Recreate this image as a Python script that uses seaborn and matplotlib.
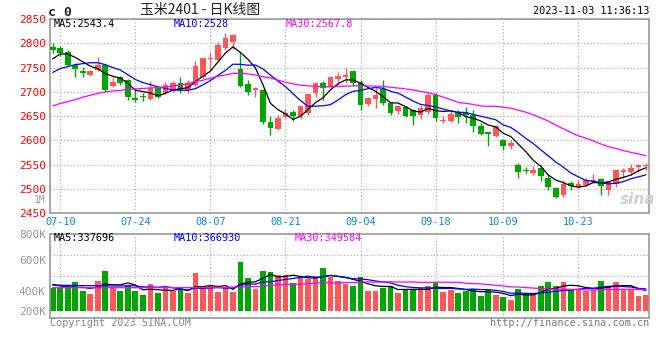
import numpy as np
import pandas as pd
import matplotlib
matplotlib.use("Agg")
import matplotlib.pyplot as plt
import seaborn as sns

# daily candles, 2023-07-07 .. 2023-11-03 (80 trading days)
open_ = [2793, 2791, 2783, 2755, 2743, 2735, 2745, 2755, 2712, 2730,
         2725, 2688, 2692, 2685, 2707, 2698, 2705, 2718, 2703, 2714,
         2730, 2768, 2766, 2790, 2803, 2748, 2716, 2703, 2703, 2637,
         2623, 2648, 2659, 2650, 2656, 2697, 2718, 2709, 2727, 2731,
         2742, 2721, 2675, 2685, 2705, 2678, 2661, 2668, 2663, 2652,
         2659, 2694, 2640, 2641, 2656, 2656, 2653, 2630, 2618, 2610,
         2600, 2588, 2550, 2539, 2532, 2544, 2522, 2502, 2488, 2512,
         2505, 2509, 2515, 2520, 2498, 2511, 2536, 2536, 2546, 2547]
high = [2801, 2795, 2787, 2760, 2752, 2746, 2771, 2757, 2731, 2733,
        2726, 2707, 2698, 2722, 2710, 2721, 2723, 2730, 2725, 2763,
        2769, 2781, 2803, 2821, 2820, 2779, 2725, 2709, 2705, 2650,
        2652, 2664, 2663, 2672, 2695, 2721, 2723, 2731, 2740, 2749,
        2742, 2725, 2690, 2707, 2725, 2680, 2673, 2670, 2665, 2673,
        2697, 2697, 2650, 2660, 2663, 2668, 2663, 2636, 2618, 2632,
        2602, 2600, 2553, 2546, 2547, 2549, 2529, 2505, 2518, 2517,
        2519, 2522, 2531, 2522, 2516, 2540, 2544, 2551, 2551, 2554]
low = [2781, 2773, 2753, 2730, 2731, 2733, 2742, 2700, 2709, 2714,
       2683, 2680, 2682, 2683, 2688, 2696, 2700, 2698, 2698, 2712,
       2728, 2745, 2762, 2786, 2788, 2709, 2694, 2689, 2634, 2611,
       2621, 2646, 2639, 2645, 2652, 2690, 2683, 2707, 2714, 2718,
       2712, 2663, 2670, 2666, 2673, 2652, 2655, 2648, 2631, 2645,
       2655, 2640, 2635, 2638, 2636, 2635, 2618, 2612, 2588, 2608,
       2580, 2583, 2522, 2532, 2528, 2517, 2498, 2481, 2484, 2498,
       2502, 2507, 2512, 2488, 2488, 2505, 2522, 2529, 2535, 2539]
close = [2787, 2781, 2755, 2748, 2738, 2743, 2755, 2704, 2721, 2719,
         2690, 2683, 2690, 2707, 2690, 2714, 2718, 2703, 2718, 2753,
         2769, 2770, 2797, 2810, 2817, 2712, 2700, 2707, 2637, 2626,
         2647, 2656, 2650, 2670, 2695, 2718, 2707, 2731, 2733, 2734,
         2718, 2673, 2687, 2694, 2678, 2656, 2670, 2650, 2650, 2666,
         2694, 2646, 2643, 2655, 2649, 2653, 2629, 2614, 2614, 2629,
         2588, 2595, 2536, 2537, 2540, 2526, 2505, 2484, 2511, 2507,
         2511, 2519, 2519, 2507, 2516, 2539, 2539, 2543, 2550, 2548]
volume = [372, 372, 400, 477, 327, 278, 494, 660, 400, 327,
          427, 327, 261, 444, 289, 372, 327, 389, 294, 627,
          372, 411, 311, 372, 316, 816, 544, 361, 660, 644,
          594, 594, 461, 561, 527, 577, 710, 555, 494, 438,
          411, 561, 333, 333, 383, 411, 300, 344, 344, 383,
          411, 477, 316, 344, 300, 327, 361, 250, 344, 261,
          228, 178, 361, 278, 278, 411, 477, 411, 477, 344,
          361, 333, 344, 494, 411, 477, 361, 344, 244, 261]  # thousand lots

# moving-average values before a full window exists
ma5_head = [2768, 2778, 2778, 2771]
ma10_head = [2740, 2748, 2752, 2756, 2758, 2760, 2760, 2756, 2750]
ma30_head = [2671, 2676, 2680, 2684, 2689, 2693, 2697, 2700, 2702, 2703,
             2705, 2706, 2707, 2708, 2709, 2710, 2712, 2714, 2717, 2721,
             2724, 2728, 2732, 2735, 2738, 2738, 2737, 2735, 2731]
vma5_head = [438, 411, 400, 389]
vma10_head = [427, 425, 422, 420, 418, 416, 416, 414, 412]
vma30_head = [383, 383, 383, 383, 383, 383, 383, 383, 383, 383,
              383, 383, 383, 383, 383, 383, 383, 383, 384, 384,
              385, 386, 388, 390, 393, 396, 399, 402, 405]

# values printed in the legends
price_ma_text = ["MA5:2543.4", "MA10:2528", "MA30:2567.8"]
vol_ma_text = ["MA5:337696", "MA10:366930", "MA30:349584"]

tick_idx = [1, 11, 21, 31, 41, 51, 60, 70]
tick_labels = ["07-10", "07-24", "08-07", "08-21", "09-04", "09-18", "10-09", "10-23"]
price_ticks = [2450, 2500, 2550, 2600, 2650, 2700, 2750, 2800, 2850]

RED = "#ff5757"
GREEN = "#00a600"
GRID = "#a8a8a8"
BORDER = "#9a9a9a"
MA_COLORS = ["black", "#0000ff", "#ff00ff"]
MONO = "DejaVu Sans Mono"
CJK = ["Noto Sans CJK SC", "DejaVu Sans"]

sns.set_theme(style="white")
plt.rcParams["font.family"] = ["DejaVu Sans Mono", "Noto Sans CJK SC"]

df = pd.DataFrame({"open": open_, "high": high, "low": low, "close": close,
                   "vol": np.array(volume) * 1000.0})
df["idx"] = np.arange(len(df))
df["color"] = np.where(df["close"] >= df["open"], RED, GREEN)

def moving_avg(s, n, head):
    m = s.rolling(n).mean().to_numpy()
    m[:n - 1] = head
    return m

df["ma5"] = moving_avg(df["close"], 5, ma5_head)
df["ma10"] = moving_avg(df["close"], 10, ma10_head)
df["ma30"] = moving_avg(df["close"], 30, ma30_head)
df["vma5"] = moving_avg(df["vol"], 5, np.array(vma5_head) * 1000.0)
df["vma10"] = moving_avg(df["vol"], 10, np.array(vma10_head) * 1000.0)
df["vma30"] = moving_avg(df["vol"], 30, np.array(vma30_head) * 1000.0)

W, H = 660, 360
fig = plt.figure(figsize=(6.6, 3.6), dpi=100)
fig.patch.set_facecolor("white")

def fx(x):
    return x / W

def fy(y):
    return 1 - y / H

ax = fig.add_axes([fx(50), fy(213.3), fx(599.3), 194.3 / H])
axv = fig.add_axes([fx(50), fy(317.7), fx(599.3), 83.4 / H])

# candles
ax.vlines(df["idx"], df["low"], df["high"], colors=df["color"], lw=1.0, zorder=2)
body_lo = np.minimum(df["open"], df["close"])
body_h = np.maximum((df["close"] - df["open"]).abs(), 1.6)
ax.bar(df["idx"], body_h, bottom=body_lo, width=0.75, color=df["color"], lw=0, zorder=3)

for col, c in zip(["ma5", "ma10", "ma30"], MA_COLORS):
    sns.lineplot(data=df, x="idx", y=col, ax=ax, color=c, lw=0.9, zorder=4)

# volume
axv.bar(df["idx"], df["vol"], width=0.75, color=df["color"], lw=0, zorder=2)
for col, c in zip(["vma5", "vma10", "vma30"], MA_COLORS):
    sns.lineplot(data=df, x="idx", y=col, ax=axv, color=c, lw=0.9, zorder=4)

for a in (ax, axv):
    a.set_xlim(-0.36, 79.45)
    a.set_xlabel("")
    a.set_ylabel("")
    a.set_axisbelow(True)
    for s in a.spines.values():
        s.set_color(BORDER)
        s.set_linewidth(1.2)
    a.tick_params(length=0)
    a.set_facecolor("white")

ax.set_ylim(2450, 2850)
ax.set_yticks(price_ticks, labels=[str(v) for v in price_ticks])
ax.set_xticks(tick_idx, labels=tick_labels)
ax.tick_params(axis="y", labelcolor="#ff0000", labelsize=8, pad=3)
ax.tick_params(axis="x", labelcolor="#0a88d8", labelsize=7.4, pad=3)
ax.grid(True, color=GRID, ls=(0, (1, 2)), lw=0.8)

# volume axis: zero at the bar base, gridlines at equal panel divisions
vlo, vhi = -116.5e3, 1272e3
axv.set_ylim(vlo, vhi)
axv.set_xticks(tick_idx, labels=[])
axv.set_yticks([vhi, 844e3, 333e3, -5e3], labels=["800K", "600K", "400K", "200K"])
axv.set_yticks([vlo + (vhi - vlo) * f for f in (0.25, 0.5, 0.75)], minor=True)
axv.tick_params(axis="y", which="both", length=0, labelcolor="#999999", labelsize=8, pad=3)
axv.grid(True, axis="x", color=GRID, ls=(0, (1, 2)), lw=0.8)
axv.grid(True, axis="y", which="minor", color=GRID, ls=(0, (1, 2)), lw=0.8)

# legends / labels
txt = dict(family=MONO, fontsize=7.3, va="center")
for s, x, c in zip(price_ma_text, [54, 174, 286], MA_COLORS):
    fig.text(fx(x), fy(24), s, color=c, **txt)
for s, x, c in zip(vol_ma_text, [54, 174, 295], MA_COLORS):
    fig.text(fx(x), fy(238), s, color=c, **txt)

fig.text(fx(48), fy(12), "c 0", family=MONO, fontsize=9.5, fontweight="bold", va="center")
fig.text(fx(200), fy(10), "玉米2401 - 日K线图", family=CJK, fontsize=10,
         ha="center", va="center", color="#222222")
fig.text(fx(649), fy(11.5), "2023-11-03 11:36:13", family=MONO, fontsize=7.4,
         ha="right", va="center", color="black")
fig.text(fx(46), fy(200), "1M", family=MONO, fontsize=7, ha="right", va="center", color="#999999")
fig.text(fx(50), fy(323.5), "Copyright 2023 SINA.COM", family=MONO, fontsize=7.3,
         va="center", color="#888888")
fig.text(fx(649), fy(323.5), "http://finance.sina.com.cn", family=MONO, fontsize=7.3,
         ha="right", va="center", color="#777777")
fig.text(fx(620), fy(199), "sina", family="DejaVu Sans", fontsize=11, fontweight="bold",
         style="italic", va="center", color="#cfcfcf")

fig.savefig("out.png", dpi=100)
